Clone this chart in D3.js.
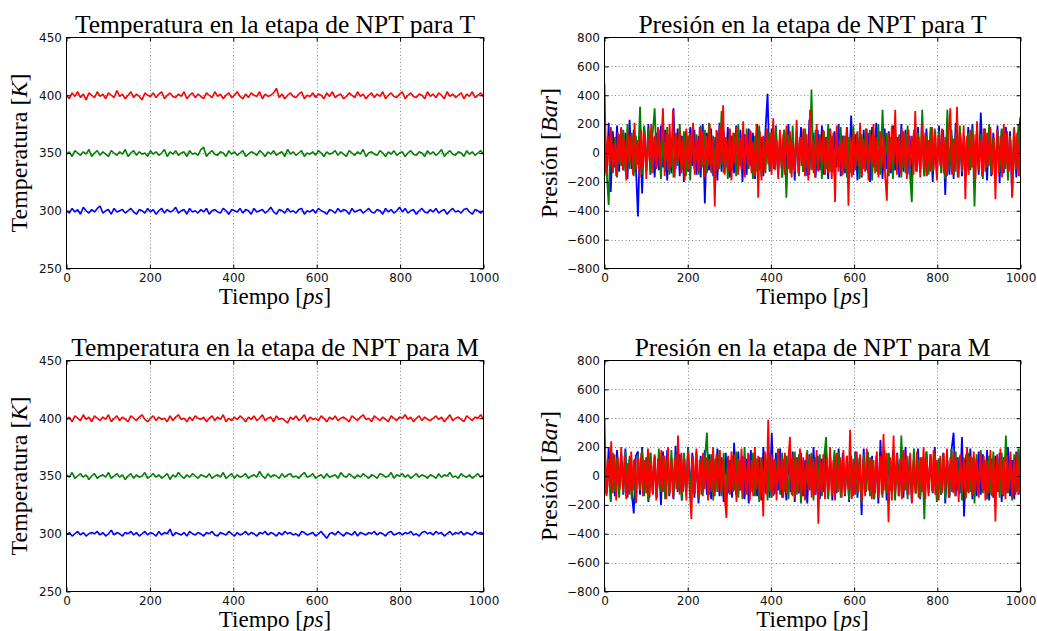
<!DOCTYPE html>
<html>
<head>
<meta charset="utf-8">
<script src="https://cdn.jsdelivr.net/npm/d3@7"></script>
<style>
  body { margin: 0; background: #fff; }
  .tick text { font-family: "DejaVu Sans", sans-serif; font-size: 12px; fill: #111; }
  .tick line { stroke: #000; stroke-width: 1; }
  .grid line { stroke: #555; stroke-width: 0.7; stroke-dasharray: 1,2.5; }
  .rotulo { font-family: "Liberation Serif", serif; fill: #000; }
</style>
</head>
<body>
<div id="main"></div>
<script>
!(function () {
  'use strict';

  // datos
  const tiempoMax = 1000;
  const xTicks = [0, 200, 400, 600, 800, 1000];
  const tempTicks = [250, 300, 350, 400, 450];
  const presTicks = [-800, -600, -400, -200, 0, 200, 400, 600, 800];

  const tempT_300 = [
    300,298,302,299,301,297,303,300,298,301, 299,302,304,298,300,301,297,302,299,300,
    301,298,300,302,299,297,301,300,298,302, 299,301,297,300,302,298,301,299,300,303,
    298,300,301,297,302,299,300,298,301,299, 302,297,300,301,299,298,302,300,297,301,
    300,299,302,298,301,300,297,302,299,300, 301,298,300,303,299,297,301,300,298,302,
    299,300,298,301,302,297,300,299,301,298, 302,300,299,297,301,300,298,302,299,301,
    300,297,302,299,300,301,298,300,302,299, 298,301,300,297,302,299,301,298,300,303,
    299,302,298,300,301,297,300,302,299,298, 301,299,302,298,300,301,297,300,302,299,
    300,298,301,302,299,297,301,300,298,300
  ];
  const tempT_350 = [
    349,351,347,352,350,348,351,349,353,347, 350,352,348,351,349,347,352,350,348,351,
    349,353,347,350,352,348,351,349,350,347, 352,349,351,348,350,353,347,351,349,352,
    348,350,351,347,352,349,350,348,353,355, 347,350,352,349,348,351,350,347,352,349,
    351,348,350,352,347,349,351,350,348,352, 350,347,351,349,352,348,350,351,347,353,
    349,351,348,350,352,347,350,349,351,348, 352,350,347,351,349,350,352,348,351,349,
    347,352,350,348,351,349,353,347,350,351, 349,348,352,350,347,351,349,352,348,350,
    351,347,350,352,349,348,351,350,347,352, 349,351,348,350,353,347,350,352,349,348,
    351,350,347,352,349,351,348,350,352,349
  ];
  const tempT_400 = [
    400,397,402,399,403,398,401,396,402,400, 398,403,399,401,397,402,400,398,404,399,
    401,397,400,403,398,401,399,396,402,400, 399,402,398,401,403,397,400,402,399,398,
    401,399,403,397,400,402,398,401,399,397, 402,400,398,403,399,401,397,400,402,398,
    400,403,399,397,401,398,402,400,399,403, 397,401,399,400,402,406,398,401,397,400,
    402,399,398,401,403,397,400,399,402,398, 401,400,397,402,399,403,398,400,401,397,
    399,402,400,398,403,399,401,397,400,402, 398,401,399,403,397,400,402,399,398,401,
    403,397,400,402,399,398,401,400,397,403, 399,401,398,402,400,397,403,399,401,398,
    400,402,397,401,399,403,398,400,402,399
  ];

  const tempM_300 = [
    299,301,298,300,302,299,301,298,300,301, 300,302,299,301,298,300,303,299,301,300,
    298,301,300,302,299,301,298,300,302,299, 301,300,298,302,299,301,300,304,298,301,
    300,299,301,298,302,300,299,301,300,298, 301,300,302,299,298,301,300,299,302,300,
    298,301,299,300,302,299,301,300,298,301, 300,302,299,301,300,298,301,299,302,300,
    301,299,300,298,302,301,299,300,301,298, 300,302,299,296,300,301,299,302,300,298,
    301,300,299,302,298,301,300,299,301,300, 302,299,301,300,298,301,302,299,300,301,
    299,301,300,302,299,300,298,301,302,300, 301,299,302,300,301,298,300,302,299,301,
    300,302,299,301,300,299,302,300,301,300
  ];
  const tempM_350 = [
    351,349,353,348,350,352,349,351,347,350, 352,348,350,351,349,353,348,350,352,349,
    351,347,350,352,348,351,349,350,353,348, 350,352,349,351,348,350,352,347,351,349,
    353,350,348,351,349,352,350,348,351,350, 349,352,348,350,351,349,353,348,350,352,
    348,351,349,350,352,348,350,351,349,354, 350,348,352,349,351,350,348,352,349,351,
    352,349,350,348,351,353,349,350,352,348, 350,351,348,352,349,350,351,348,353,350,
    349,352,350,348,351,349,352,350,348,351, 350,348,352,351,349,350,353,348,351,350,
    352,349,351,348,350,352,349,351,350,348, 351,350,348,352,349,351,350,353,349,350,
    348,352,350,349,351,348,350,352,349,351
  ];
  const tempM_400 = [
    399,401,397,402,400,398,403,399,401,397, 402,400,398,401,399,403,397,400,402,398,
    401,399,397,402,400,398,401,403,399,397, 400,402,398,401,399,400,397,402,398,401,
    403,399,400,397,401,398,402,400,399,401, 397,400,402,398,401,399,403,397,400,398,
    401,399,402,400,397,401,399,402,398,400, 403,398,400,401,397,402,399,400,398,396,
    401,399,402,398,400,403,397,401,399,400, 398,402,400,397,401,399,402,398,400,401,
    399,397,402,400,398,401,403,399,400,397, 402,400,398,401,399,397,402,400,398,401,
    400,403,399,401,397,400,402,398,401,399, 398,400,402,399,401,397,400,403,398,400,
    401,399,397,402,400,398,401,400,403,399
  ];

  const presT_azul = [
    120,-160,210,-270,150,-100,190,-130,170,-120, 140,-180,230,-110,160,-90,-440,120,-280,180,
    -130,200,-150,110,-170,140,-120,190,-100,160, -190,130,-140,310,-110,170,-160,120,-200,150,
    -130,180,-90,160,-150,120,-170,200,-350,140, -120,170,-160,110,-190,210,-130,150,-100,180,
    -170,120,-140,190,-110,160,-200,130,-150,170, -90,140,-180,200,-120,110,-160,150,410,-130,
    170,-110,190,-150,130,-170,160,-120,200,-140, 110,-190,150,-100,180,-130,120,-160,230,-110,
    140,-170,160,-120,190,-150,110,-180,170,-130, 150,-100,200,-160,120,-140,180,-110,260,-150,
    130,-190,110,-170,160,-120,140,-200,180,-100, 210,-150,130,-180,170,-110,150,-140,190,-120,
    110,-170,200,-130,160,-150,120,-190,140,-110, 180,-140,130,-160,170,-120,150,-200,110,-170,
    190,-110,160,-290,140,-150,120,-180,210,-130, 150,-160,110,-140,180,-120,200,-170,130,-150,
    280,-110,170,-190,120,-160,140,-130,190,-210, 160,-140,180,-120,150,-300,130,-170,110,250
  ];
  const presT_verde = [
    150,-120,-360,180,-140,110,-170,130,-90,160, -130,200,-110,140,-160,120,-80,320,-150,190,
    -120,170,-140,130,310,-100,160,-180,120,-130, 180,-150,110,-170,140,-90,200,-120,150,-160,
    120,-190,170,-110,130,-150,190,-100,160,-140, 210,-130,120,-170,150,-110,290,-140,110,-180,
    160,-120,140,-160,200,-90,130,-150,170,-110, 150,-180,120,-130,190,-160,110,-140,170,-120,
    140,-100,180,-150,120,-170,160,-310,130,-140, 190,-120,150,-160,110,-130,170,-100,-150,440,
    -140,160,-120,130,-180,150,-110,200,-130,120, -160,140,-100,180,-150,120,-170,110,-140,190,
    -120,150,-180,130,-110,170,-140,160,-190,120, -130,200,-150,300,-120,140,-160,110,-180,170,
    -110,130,-170,150,-140,190,-120,-340,160,-130, 140,-110,300,-160,120,-150,180,-130,170,-100,
    150,-140,110,-180,300,-120,160,-150,130,-170, 190,-130,120,-160,140,-110,170,-370,150,-120,
    130,-180,160,-100,200,-140,110,-170,150,-130, 170,-120,140,-190,120,-150,180,-110,200,-160
  ];
  const presT_rojo = [
    480,-140,120,-90,170,-130,60,-160,140,-80, 180,-120,100,-190,150,-70,130,-150,210,-110,
    90,-170,160,-100,140,-180,110,-60,200,-140, 120,-110,180,-90,70,310,-160,140,-120,200,
    -100,300,-170,130,-60,160,-140,100,-190,170, -120,140,-80,210,-150,90,-130,180,-100,150,
    -170,120,-90,200,-140,110,-370,160,-120,190, -80,330,-150,100,-130,170,-190,140,-70,180,
    -150,110,-120,220,-170,130,-90,160,-140,80, -160,200,-310,150,-190,120,-130,170,-80,140,
    -150,240,-120,90,-180,160,-100,130,-150,190, -110,150,-170,70,-130,230,-140,110,-90,170,
    -160,130,-190,300,-120,90,-170,200,-130,120, -70,160,-150,100,-140,160,-180,140,-340,190,
    -130,80,-160,120,-110,180,-365,110,-170,150, -120,140,-90,210,-160,100,-130,170,-190,130,
    -80,200,-140,110,-170,150,-100,120,-160,-330, 140,-120,190,-80,300,-150,110,-140,170,-100,
    130,-180,160,-90,120,-150,290,-130,110,-170, 200,-110,140,-160,90,-130,180,-120,150,-190,
    120,-90,170,-140,110,-160,130,310,-150,100, -130,320,-170,140,-110,190,-320,120,-150,160,
    -100,130,-180,220,-120,90,-160,170,-130,140, -90,180,-150,110,-320,160,-140,120,-170,200,
    -110,150,-130,90,-310,170,-120,140,-160,130
  ];

  const presM_azul = [
    150,-120,200,-170,110,-140,180,-100,160,-130, 190,-150,120,-110,-260,140,170,-130,200,-120,
    130,-180,160,-100,140,-150,110,-200,170,-120, 180,-140,120,-160,210,-110,150,-170,130,-130,
    200,-120,160,-150,110,-190,140,-100,180,-130, 150,-160,120,-110,190,-140,130,-180,160,-120,
    110,-150,230,-130,170,-100,140,-160,120,-190, 180,-110,150,-140,130,-170,200,-120,110,-150,
    300,-130,160,-100,190,-150,120,-170,140,-110, 170,-180,130,-120,160,-140,110,-190,150,-100,
    200,-130,140,-160,120,-110,180,-150,130,-170, 150,-120,190,-100,160,-140,110,-180,140,-130,
    170,-150,120,-270,190,-110,160,-130,140,-160, 110,-190,250,-120,130,-170,150,-100,180,-140,
    160,-110,120,-150,200,-130,140,-180,110,-120, 190,-160,130,-140,170,-100,150,-120,200,-170,
    120,-130,160,-190,110,-150,180,300,-140,130, -120,270,-280,150,-110,190,-160,120,-140,170,
    -130,150,-100,180,-170,120,-150,140,-110,160, -180,130,-120,200,-140,110,-160,170,-130,190
  ];
  const presM_verde = [
    250,-140,120,-180,160,-110,130,-150,110,-120, 170,-130,140,-160,110,-190,150,-100,180,-140,
    120,-170,160,-120,130,-150,190,-110,140,-160, 110,-130,180,-140,150,-100,120,-170,160,-120,
    190,-150,130,-110,170,-160,120,-140,110,300, -130,150,-170,120,-110,180,-140,160,-190,130,
    -120,140,-100,170,-150,110,-160,200,-130,150, -110,160,-140,120,-180,130,-100,150,-170,140,
    -150,110,-120,190,-130,160,-110,140,-160,120, -140,170,-130,150,-190,110,-120,180,-100,160,
    -170,130,-110,150,-140,120,270,-160,130,-120, 180,-100,160,-150,110,-130,140,-170,120,-140,
    160,-120,130,-190,150,-110,170,-140,120,-160, 140,-130,110,-150,180,-120,160,-100,130,-170,
    150,-140,280,-110,120,-160,140,-130,190,-120, 110,-150,130,-300,170,-120,140,-110,160,-180,
    120,-130,150,-160,110,-140,190,-120,170,-100, 140,-170,120,-150,160,-110,130,-190,150,-130,
    180,-120,110,-160,140,-130,170,-100,120,-150, 160,-140,280,-120,130,-170,150,-110,190,-130
  ];
  const presM_rojo = [
    400,-130,110,-80,240,-120,150,-170,130,-90, 200,-110,140,-160,90,-130,170,-100,120,-180,
    130,-90,160,-140,110,-120,190,-150,100,-130, 150,-170,120,-80,180,-110,140,-160,200,-120,
    110,-150,130,-90,280,-130,160,-110,120,-170, 170,-100,-300,140,-120,190,-150,110,-130,160,
    -90,130,-170,120,-110,200,-140,150,-100,180, -120,110,-160,-290,140,-130,170,-110,150,-180,
    120,-100,190,-150,130,-120,160,-170,110,-140, 200,-90,140,-160,120,-280,170,-130,390,-110,
    150,-140,120,-170,180,-100,130,-150,160,-120, 110,270,-130,150,-160,120,-110,190,-140,130,
    -170,160,-90,140,-150,120,-130,180,-330,110, -120,150,-160,130,-100,200,-140,110,-170,160,
    -110,130,-150,180,-120,140,-90,320,-160,120, -130,170,-110,150,-180,120,-140,190,-100,130,
    -160,110,-120,170,-150,140,-130,290,-100,160, -320,130,-170,280,-110,150,-140,120,-160,180,
    -100,140,-130,160,-190,110,-120,170,-150,130, -110,200,-160,120,-140,150,-100,180,-130,110,
    -170,140,-120,160,-90,190,-150,130,-110,170, -140,120,-180,150,-100,130,-160,200,-120,140,
    -130,170,-110,120,-150,160,-90,140,-170,110, -120,180,-140,130,-315,150,-110,190,-130,120,
    -160,140,-100,170,-150,110,-130,160,-120,150
  ];

  const colores = ['#0000ff', '#008000', '#ff0000'];

  // paneles (posicion en pixeles)
  const paneles = [
    { titulo: 'Temperatura en la etapa de NPT para T', ylab: 'Temperatura ', yvar: 'K',
      x0: 66.5, x1: 483.5, y0: 37.5, y1: 268.5, labX: 27, dominio: [250, 450], yTicks: tempTicks,
      grosor: 1.6, series: [tempT_300, tempT_350, tempT_400] },
    { titulo: 'Presión en la etapa de NPT para T', ylab: 'Presión ', yvar: 'Bar',
      x0: 604.5, x1: 1020.5, y0: 37.5, y1: 268.5, labX: 557, dominio: [-800, 800], yTicks: presTicks,
      grosor: 1.8, series: [presT_azul, presT_verde, presT_rojo] },
    { titulo: 'Temperatura en la etapa de NPT para M', ylab: 'Temperatura ', yvar: 'K',
      x0: 66.5, x1: 483.5, y0: 360.5, y1: 591.5, labX: 27, dominio: [250, 450], yTicks: tempTicks,
      grosor: 1.6, series: [tempM_300, tempM_350, tempM_400] },
    { titulo: 'Presión en la etapa de NPT para M', ylab: 'Presión ', yvar: 'Bar',
      x0: 604.5, x1: 1020.5, y0: 360.5, y1: 591.5, labX: 557, dominio: [-800, 800], yTicks: presTicks,
      grosor: 1.8, series: [presM_azul, presM_verde, presM_rojo] }
  ];

  const svg = d3.select('#main').append('svg')
    .attr('width', 1037)
    .attr('height', 631);

  const fmt = d => String(d).replace('-', '\u2212');

  paneles.forEach(function (p, k) {
    const x = d3.scaleLinear().domain([0, tiempoMax]).range([p.x0, p.x1]);
    const y = d3.scaleLinear().domain(p.dominio).range([p.y1, p.y0]);

    svg.append('clipPath').attr('id', 'clip' + k)
      .append('rect')
      .attr('x', p.x0).attr('y', p.y0)
      .attr('width', p.x1 - p.x0).attr('height', p.y1 - p.y0);

    // rejilla
    const grid = svg.append('g').attr('class', 'grid');
    grid.selectAll('.gx').data(xTicks.slice(1, -1)).enter().append('line')
      .attr('x1', d => Math.round(x(d)) + 0.5).attr('x2', d => Math.round(x(d)) + 0.5)
      .attr('y1', p.y0).attr('y2', p.y1);
    grid.selectAll('.gy').data(p.yTicks.slice(1, -1)).enter().append('line')
      .attr('y1', d => Math.round(y(d)) + 0.5).attr('y2', d => Math.round(y(d)) + 0.5)
      .attr('x1', p.x0).attr('x2', p.x1);

    // series
    const g = svg.append('g').attr('clip-path', 'url(#clip' + k + ')');
    p.series.forEach(function (s, j) {
      const linea = d3.line()
        .x((d, i) => x(i * tiempoMax / (s.length - 1)))
        .y(d => y(d));
      g.append('path')
        .datum(s)
        .attr('fill', 'none')
        .attr('stroke', colores[j])
        .attr('stroke-width', p.grosor)
        .attr('stroke-linejoin', 'bevel')
        .attr('d', linea);
    });

    // ejes
    const ax = [
      svg.append('g').attr('transform', 'translate(0,' + p.y1 + ')')
        .call(d3.axisBottom(x).tickValues(xTicks).tickFormat(fmt).tickSize(-4).tickSizeOuter(0).tickPadding(5)),
      svg.append('g').attr('transform', 'translate(' + p.x0 + ',0)')
        .call(d3.axisLeft(y).tickValues(p.yTicks).tickFormat(fmt).tickSize(-4).tickSizeOuter(0).tickPadding(4.5)),
      svg.append('g').attr('transform', 'translate(0,' + p.y0 + ')')
        .call(d3.axisTop(x).tickValues(xTicks).tickFormat('').tickSize(-4).tickSizeOuter(0)),
      svg.append('g').attr('transform', 'translate(' + p.x1 + ',0)')
        .call(d3.axisRight(y).tickValues(p.yTicks).tickFormat('').tickSize(-4).tickSizeOuter(0))
    ];
    ax.forEach(a => a.select('.domain').remove());

    svg.append('rect')
      .attr('x', p.x0).attr('y', p.y0)
      .attr('width', p.x1 - p.x0).attr('height', p.y1 - p.y0)
      .attr('fill', 'none').attr('stroke', '#000').attr('stroke-width', 1);

    // textos
    svg.append('text').attr('class', 'rotulo')
      .attr('x', (p.x0 + p.x1) / 2).attr('y', p.y0 - 5)
      .attr('text-anchor', 'middle').style('font-size', '25.5px')
      .text(p.titulo);

    const xl = svg.append('text').attr('class', 'rotulo')
      .attr('x', (p.x0 + p.x1) / 2).attr('y', p.y1 + 35)
      .attr('text-anchor', 'middle').style('font-size', '23px');
    xl.append('tspan').text('Tiempo ');
    xl.append('tspan').text('[');
    xl.append('tspan').style('font-style', 'italic').text('ps');
    xl.append('tspan').text(']');

    const yl = svg.append('text').attr('class', 'rotulo')
      .attr('transform', 'translate(' + p.labX + ',' + (p.y0 + p.y1) / 2 + ') rotate(-90)')
      .attr('text-anchor', 'middle').style('font-size', '24px');
    yl.append('tspan').text(p.ylab);
    yl.append('tspan').text('[');
    yl.append('tspan').style('font-style', 'italic').text(p.yvar);
    yl.append('tspan').text(']');
  });
}());
</script>
</body>
</html>
